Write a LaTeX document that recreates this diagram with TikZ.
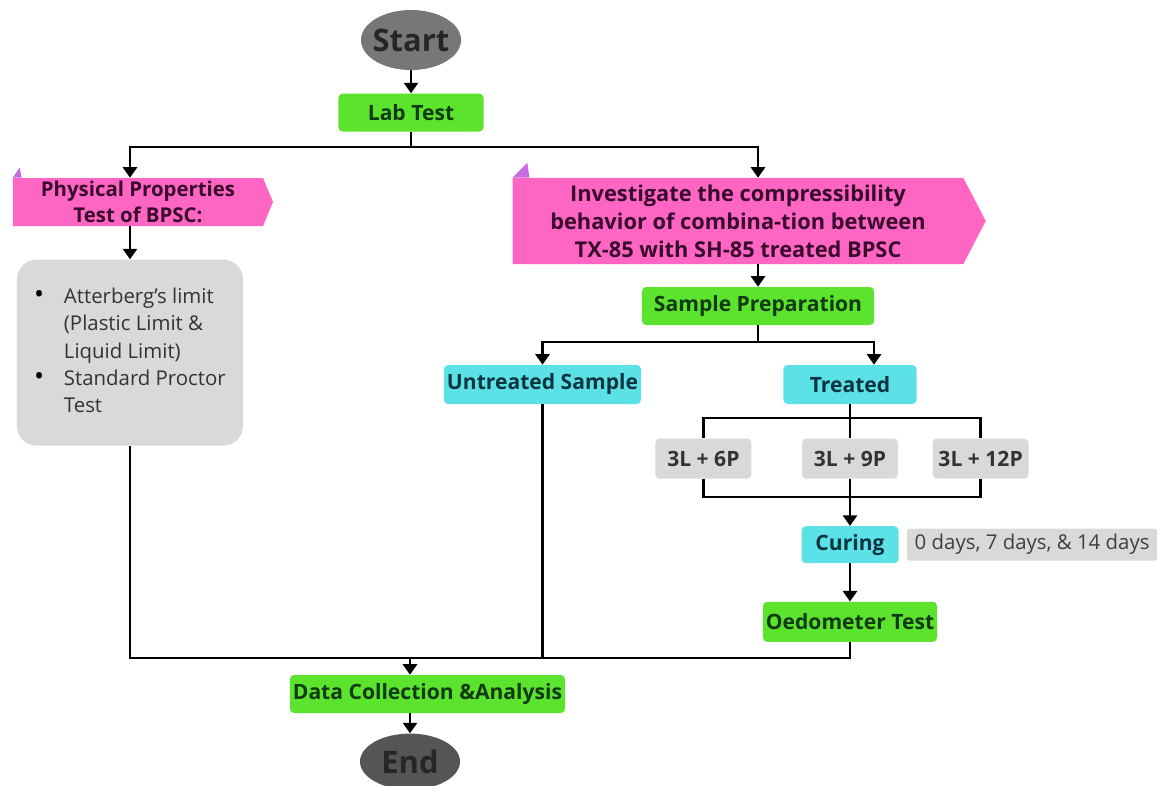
\documentclass[tikz,border=0pt]{standalone}
\usepackage{fontspec}
\setmainfont{Open Sans}
\usetikzlibrary{positioning, arrows.meta, shapes.geometric, shapes.symbols}

\definecolor{labgreen}{HTML}{5CE32E}
\definecolor{greentext}{HTML}{0F3A12}
\definecolor{bannerpink}{HTML}{FF66C4}
\definecolor{pinktext}{HTML}{3A0A2C}
\definecolor{foldpurple}{HTML}{C86BE0}
\definecolor{samplecyan}{HTML}{5CE1E6}
\definecolor{cyantext}{HTML}{0B3440}
\definecolor{notegray}{HTML}{D9D9D9}
\definecolor{startgray}{HTML}{777777}
\definecolor{endgray}{HTML}{555555}

\begin{document}
\begin{tikzpicture}[
  x=0.025cm, y=-0.025cm,
  terminal/.style={ellipse, inner sep=0pt, minimum width=2.5cm,
                   font=\fontsize{22}{26}\selectfont\bfseries, text=black!85},
  stepgreen/.style={rectangle, fill=labgreen, rounded corners=3pt,
                    minimum height=0.95cm, inner sep=2pt,
                    font=\fontsize{15}{18}\selectfont\bfseries, text=greentext},
  stepcyan/.style={rectangle, fill=samplecyan, rounded corners=3pt,
                   minimum height=0.975cm, inner sep=2pt,
                   font=\fontsize{15}{18}\selectfont\bfseries, text=cyantext},
  mix/.style={rectangle, fill=notegray, rounded corners=3pt,
              minimum width=2.4cm, minimum height=1cm, inner sep=2pt,
              font=\fontsize{15}{18}\selectfont\bfseries, text=black!80},
  note/.style={rectangle, fill=notegray, rounded corners=2pt,
               minimum width=6.25cm, minimum height=0.8cm, inner sep=2pt,
               font=\fontsize{14.5}{18}\selectfont, text=black!75},
  banner/.style={signal, signal to=east, fill=bannerpink, align=center,
                 inner sep=0pt, text=pinktext},
  fold/.style={fill=foldpurple},
  line/.style={line width=2pt},
  arr/.style={line, -{Triangle[width=10pt,length=7.5pt]}}
]
  \useasboundingbox (0,0) rectangle (1161,785);

  \node[terminal, fill=startgray, minimum height=1.5cm] (start) at (411,40) {\makebox[1.5cm]{Start}};
  \node[stepgreen, minimum width=3.625cm, below=0.575cm of start] (labtest) {Lab Test};

  % left branch
  \node[banner, minimum width=6.5cm, minimum height=1.2cm, signal pointer angle=135,
        font=\fontsize{14.5}{18}\selectfont\bfseries] (phys) at (138,202)
        {Physical Properties\\Test of BPSC:};
  \fill[fold] (phys.west |- phys.north) -- ++(7,-10) -- ++(2,10) -- cycle;
  \node[rectangle, fill=notegray, rounded corners=14pt, minimum width=5.65cm,
        minimum height=4.65cm, font=\fontsize{14.5}{19.5}\selectfont, text=black!80,
        below=0.825cm of phys, xshift=-0.2cm] (props)
        {\begin{tabular}{@{}l@{\hspace{14pt}}l@{}}
           {\fontsize{19}{19.5}\selectfont\textcolor{black}{\textbullet}} & Atterberg’s limit\\
                       & (Plastic Limit \&\\
                       & Liquid Limit)\\
           {\fontsize{19}{19.5}\selectfont\textcolor{black}{\textbullet}} & Standard Proctor\\
                       & Test
         \end{tabular}};

  % right branch
  \node[banner, minimum width=11.825cm, minimum height=2.15cm, signal pointer angle=125,
        font=\fontsize{15.5}{20}\selectfont\bfseries] (invest) at (738,221)
        {Investigate the compressibility\\behavior of combina-tion between\\TX-85 with SH-85 treated BPSC};
  \fill[fold] (invest.west |- invest.north) -- ++(15,-15) -- ++(2,15) -- cycle;
  \node[stepgreen, minimum width=5.8cm] (prep) at (758,306) {Sample Preparation};
  \node[stepcyan, minimum width=4.925cm] (untreated) at (542.5,384.5) {Untreated Sample};
  \node[stepcyan, minimum width=3.325cm] (treated) at (850,384.5) {Treated};

  \node[mix, below=0.85cm of treated] (mixB) {3L + 9P};
  \node[mix, left=1.25cm of mixB] (mixA) {3L + 6P};
  \node[mix, right=0.85cm of mixB] (mixC) {3L + 12P};

  \node[stepcyan, minimum width=2.425cm, minimum height=0.925cm, below=1.175cm of mixB] (curing) {Curing};
  \node[note, right=0.2cm of curing] (days) {0 days, 7 days, \& 14 days};
  \node[stepgreen, minimum width=4.35cm, minimum height=1cm, below=0.95cm of curing] (oedo) {Oedometer Test};

  % merge
  \node[stepgreen, minimum width=6.875cm] (data) at (427.5,694) {Data Collection \&Analysis};
  \node[terminal, fill=endgray, minimum height=1.4cm, below=0.5cm of data, xshift=-0.4375cm] (finish) {\makebox[1.5cm]{End}};

  % bars
  \coordinate (topbar)  at (0,147);
  \coordinate (prepbar) at (0,342);
  \coordinate (highbar) at (0,418);
  \coordinate (lowbar)  at (0,497);
  \coordinate (mainbar) at (0,658);

  % edges
  \draw[arr]  (start) -- (labtest);
  \draw[line] (labtest.south) -- (labtest.south |- topbar);
  \draw[arr]  (labtest.south |- topbar) -| (props.north |- phys.north);
  \draw[arr]  (labtest.south |- topbar) -| (prep.north |- invest.north);
  \draw[arr]  (phys.south -| props.north) -- (props.north);
  \draw[arr]  (invest.south -| prep.north) -- (prep.north);
  \draw[line] (prep.south) -- (prep.south |- prepbar);
  \draw[arr]  (prep.south |- prepbar) -| (untreated.north);
  \draw[arr]  (prep.south |- prepbar) -| ([xshift=0.6cm]treated.north);
  \draw[line] (treated.south) -- (mixB.north);
  \draw[line] (mixA.north) |- (mixC.north |- highbar) -- (mixC.north);
  \draw[line] (mixA.south) |- (mixC.south |- lowbar) -- (mixC.south);
  \draw[arr]  (mixB) -- (curing);
  \draw[arr]  (curing) -- (oedo);
  \draw[line] (props.south) |- (oedo.south |- mainbar) -- (oedo.south);
  \draw[line] (untreated.south) -- (untreated.south |- mainbar);
  \draw[arr]  (finish.north |- mainbar) -- (finish.north |- data.north);
  \draw[arr]  (data.south -| finish.north) -- (finish.north);
\end{tikzpicture}
\end{document}
